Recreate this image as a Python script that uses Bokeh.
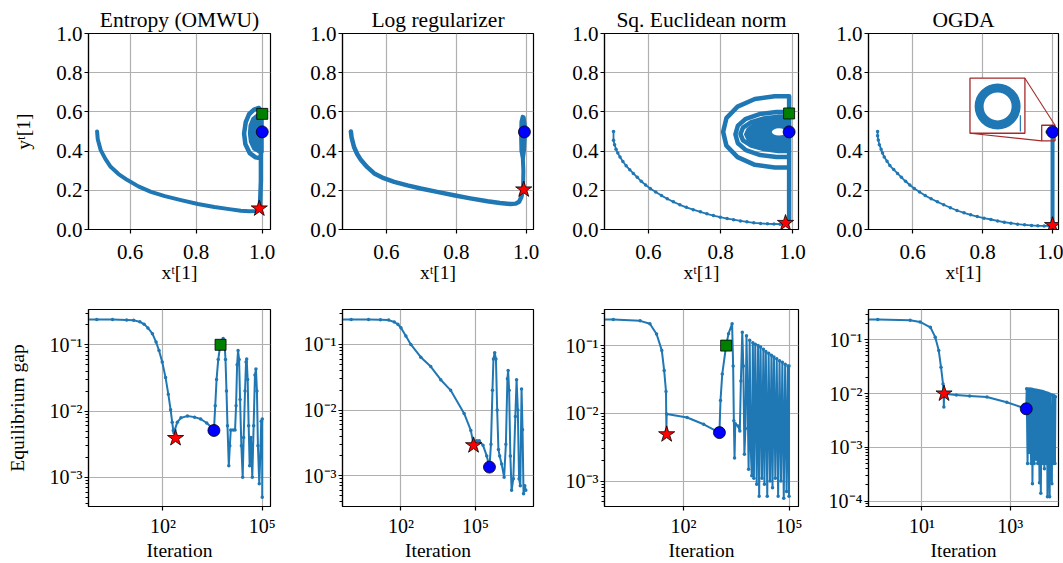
from bokeh.plotting import figure
from bokeh.layouts import row, column
from bokeh.models import Range1d, FixedTicker
from bokeh.embed import file_html
from bokeh.resources import INLINE

BLUE = "#1f77b4"
INSET_RED = "#a52a2a"
FONT = "Liberation Serif"

# ---------------- text ----------------
panel_titles = ["Entropy (OMWU)", "Log regularizer", "Sq. Euclidean norm", "OGDA"]
top_xlabel = "xᵗ[1]"
top_ylabel = "yᵗ[1]"
bot_xlabel = "Iteration"
bot_ylabel = "Equilibrium gap"

# ---------------- ticks ----------------
top_xticks = [0.6, 0.8, 1.0]
top_xtick_labels = ["0.6", "0.8", "1.0"]
top_yticks = [0.0, 0.2, 0.4, 0.6, 0.8, 1.0]
top_ytick_labels = ["0.0", "0.2", "0.4", "0.6", "0.8", "1.0"]
iter_ticks = [1e2, 1e5]
iter_tick_labels = ["10²", "10⁵"]
iter_ticks_ogda = [1e1, 1e3]
iter_tick_labels_ogda = ["10¹", "10³"]
gap_ticks = [1e-3, 1e-2, 1e-1]
gap_tick_labels = ["10⁻³", "10⁻²", "10⁻¹"]
gap_ticks_ogda = [1e-4, 1e-3, 1e-2, 1e-1]
gap_tick_labels_ogda = ["10⁻⁴", "10⁻³", "10⁻²", "10⁻¹"]
gap_minor_ticks = [8e-5, 9e-5,
                   2e-4, 3e-4, 4e-4, 5e-4, 6e-4, 7e-4, 8e-4, 9e-4,
                   2e-3, 3e-3, 4e-3, 5e-3, 6e-3, 7e-3, 8e-3, 9e-3,
                   2e-2, 3e-2, 4e-2, 5e-2, 6e-2, 7e-2, 8e-2, 9e-2,
                   2e-1, 3e-1]

# ---------------- top row: trajectories ----------------
ent_curve_x = [0.500, 0.502, 0.511, 0.525, 0.541, 0.565, 0.592, 0.625, 0.663, 0.705, 0.754, 0.805, 0.855, 0.900, 0.935, 0.960, 0.980, 0.990, 0.993]
ent_curve_y = [0.500, 0.460, 0.405, 0.360, 0.320, 0.283, 0.252, 0.220, 0.192, 0.170, 0.150, 0.130, 0.115, 0.104, 0.096, 0.093, 0.094, 0.100, 0.110]
ent_loop_x = [0.993, 0.996, 0.996, 0.990, 0.975, 0.960, 0.950, 0.945, 0.949, 0.962, 0.980, 0.992, 0.996]
ent_loop_y = [0.110, 0.250, 0.605, 0.620, 0.612, 0.588, 0.548, 0.490, 0.435, 0.390, 0.368, 0.364, 0.380]
ent_core_x = [1.000, 0.985, 0.971, 0.963, 0.961, 0.964, 0.974, 0.990, 1.000]
ent_core_y = [0.588, 0.585, 0.565, 0.532, 0.490, 0.447, 0.411, 0.396, 0.396]
ent_top_star = (0.991, 0.107)
ent_top_circle = (1.000, 0.498)
ent_top_square = (1.000, 0.590)

log_curve_x = [0.498, 0.500, 0.507, 0.516, 0.527, 0.545, 0.565, 0.592, 0.622, 0.660, 0.698, 0.745, 0.793, 0.840, 0.889, 0.925, 0.955, 0.970, 0.980, 0.986, 0.991]
log_curve_y = [0.500, 0.470, 0.421, 0.385, 0.354, 0.318, 0.286, 0.262, 0.243, 0.225, 0.209, 0.192, 0.175, 0.159, 0.144, 0.135, 0.130, 0.132, 0.142, 0.165, 0.204]
log_stem_x = [0.991, 0.992, 0.990]
log_stem_y = [0.204, 0.300, 0.380]
log_core_x = [0.990, 0.985, 0.984, 0.985, 0.989, 0.994, 0.997, 0.997, 0.995, 0.992]
log_core_y = [0.360, 0.400, 0.480, 0.550, 0.578, 0.575, 0.540, 0.460, 0.400, 0.360]
log_top_star = (0.993, 0.204)
log_top_circle = (0.995, 0.498)

sq_curve_x = [0.503, 0.503, 0.506, 0.510, 0.515, 0.521, 0.529, 0.538, 0.548, 0.558, 0.569, 0.580, 0.592, 0.605, 0.620, 0.636, 0.652, 0.669, 0.687, 0.705, 0.724, 0.744, 0.762, 0.780, 0.799, 0.818, 0.836, 0.855, 0.873, 0.892, 0.911, 0.930, 0.948, 0.965, 0.985]
sq_curve_y = [0.500, 0.455, 0.432, 0.410, 0.390, 0.370, 0.347, 0.325, 0.305, 0.286, 0.266, 0.246, 0.227, 0.209, 0.191, 0.173, 0.157, 0.141, 0.126, 0.113, 0.101, 0.090, 0.080, 0.071, 0.063, 0.056, 0.050, 0.044, 0.039, 0.034, 0.031, 0.029, 0.028, 0.027, 0.029]
sq_arcs_x = [0.985, 0.990, 0.990, 0.950, 0.895, 0.847, 0.816, 0.807, 0.816, 0.847, 0.895, 0.950, 0.990,
             0.990, 0.955, 0.910, 0.870, 0.848, 0.841, 0.848, 0.870, 0.910, 0.955, 0.990,
             0.990, 0.960, 0.920, 0.885, 0.862, 0.855, 0.862, 0.885, 0.920, 0.960, 0.990]
sq_arcs_y = [0.029, 0.050, 0.680, 0.680, 0.666, 0.627, 0.568, 0.498, 0.428, 0.369, 0.330, 0.316, 0.316,
             0.600, 0.600, 0.590, 0.565, 0.530, 0.485, 0.440, 0.405, 0.380, 0.370, 0.370,
             0.575, 0.575, 0.567, 0.548, 0.520, 0.487, 0.455, 0.428, 0.410, 0.400, 0.400]
sq_core_x = [0.990, 0.950, 0.919, 0.893, 0.876, 0.869, 0.876, 0.893, 0.919, 0.950, 0.990]
sq_core_y = [0.558, 0.558, 0.552, 0.537, 0.513, 0.4855, 0.458, 0.434, 0.419, 0.413, 0.413]
sq_hole_center = (0.962, 0.498)
sq_hole_size = (0.040, 0.036)
sq_top_star = (0.980, 0.033)
sq_top_circle = (0.990, 0.498)
sq_top_square = (0.990, 0.592)

og_curve_x = [0.500, 0.500, 0.502, 0.505, 0.510, 0.514, 0.519, 0.527, 0.535, 0.546, 0.557, 0.568, 0.580, 0.592, 0.605, 0.620, 0.636, 0.653, 0.671, 0.689, 0.708, 0.727, 0.747, 0.766, 0.785, 0.804, 0.824, 0.843, 0.862, 0.881, 0.900, 0.920, 0.940, 0.958, 0.976, 0.990, 1.000]
og_curve_y = [0.500, 0.478, 0.456, 0.433, 0.410, 0.390, 0.370, 0.348, 0.326, 0.306, 0.286, 0.266, 0.246, 0.227, 0.209, 0.191, 0.173, 0.157, 0.141, 0.126, 0.111, 0.097, 0.085, 0.075, 0.066, 0.058, 0.051, 0.044, 0.037, 0.032, 0.027, 0.024, 0.021, 0.019, 0.018, 0.019, 0.022]
og_stem_x = [1.000, 1.000, 0.985]
og_stem_y = [0.022, 0.498, 0.498]
og_inset_box = (0.764, 0.921, 0.491, 0.772)      # left, right, bottom, top
og_zoom_box = (0.969, 1.007, 0.452, 0.532)
og_ring_center = (0.843, 0.628)
og_ring_tail_x = [0.908, 0.908]
og_ring_tail_y = [0.583, 0.500]
og_top_star = (1.000, 0.022)
og_top_circle = (1.000, 0.498)

# ---------------- bottom row: equilibrium gap ----------------
ent_gap_iter = [0.3, 1, 3, 8, 13, 20, 27, 35, 48, 62, 76, 95, 120, 145, 170, 190, 205, 215, 228, 272,
                350, 550, 900, 1380, 2100, 2800, 3470, 3800, 4170, 4680, 5250, 5890, 6610, 7240, 7760, 8320,
                8910, 9770, 10500, 11200, 13200, 15100, 16200, 17400, 18600, 20000, 21400, 23400, 25700, 27500,
                30200, 32400, 33900, 36300, 38900, 41700, 45700, 50100, 55000, 60300, 64600, 69200, 74100,
                81300, 87100, 93300, 100000, 100000]
ent_gap_val = [0.24, 0.24, 0.24, 0.237, 0.234, 0.222, 0.205, 0.18, 0.147, 0.11, 0.082, 0.055, 0.032, 0.018,
               0.0105, 0.0068, 0.0051, 0.0047, 0.0052, 0.0068, 0.0079, 0.0084, 0.0081, 0.0076, 0.0066, 0.0058,
               0.0051, 0.012, 0.03, 0.06, 0.09, 0.115, 0.125, 0.11, 0.06, 0.02, 0.006, 0.0015, 0.003, 0.0052,
               0.0052, 0.0052, 0.012, 0.05, 0.082, 0.06, 0.015, 0.003, 0.001, 0.004, 0.02, 0.055, 0.061, 0.03,
               0.006, 0.0015, 0.004, 0.001, 0.006, 0.035, 0.043, 0.02, 0.003, 0.0008, 0.002, 0.007, 0.0076, 0.0005]
ent_bot_star = (240, 0.0039)
ent_bot_circle = (3470, 0.0051)
ent_bot_square = (5500, 0.1)

log_gap_iter = [0.3, 1, 5, 15, 32, 54, 75, 100, 158, 250, 630, 1580, 3980, 10000, 34700, 64600, 79000, 89000,
                112000, 141000, 200000, 282000, 363000, 417000, 479000, 525000, 589000, 661000, 741000, 832000,
                933000, 1.12e6, 1.41e6, 1.66e6, 1.91e6, 2.04e6, 2.24e6, 2.51e6, 2.82e6, 3.31e6, 3.98e6, 4.47e6,
                5.01e6, 5.62e6, 6.31e6, 7.08e6, 7.76e6, 8.51e6, 9.55e6, 1.05e7]
log_gap_val = [0.24, 0.24, 0.24, 0.238, 0.235, 0.22, 0.203, 0.18, 0.135, 0.1, 0.064, 0.046, 0.029, 0.02,
               0.0089, 0.0049, 0.0033, 0.0031, 0.0034, 0.0034, 0.0029, 0.002, 0.00135, 0.003, 0.02, 0.06,
               0.075, 0.06, 0.01, 0.0025, 0.002, 0.0015, 0.00095, 0.003, 0.03, 0.04, 0.02, 0.002, 0.0006,
               0.0009, 0.008, 0.029, 0.01, 0.0009, 0.0007, 0.021, 0.005, 0.00053, 0.0007, 0.0006]
log_bot_star = (83200, 0.0029)
log_bot_circle = (363000, 0.00135)

sq_gap_iter = [0.3, 1, 5.8, 11, 17, 24, 28, 31.6, 32.4, 33, 126, 372, 1047, 1122, 1259, 1622, 1900, 2400,
               2570, 2692, 2818, 2951, 3548, 3981, 4266, 4677, 5012, 5370, 5754, 6166, 6607, 7079, 7586,
               8128, 8710, 9333, 10000, 10965, 12023, 13183, 14125, 15488, 16982, 18621, 19953, 21878,
               23988, 26303, 28840, 31623, 33884, 37154, 40738, 44668, 48978, 53703, 58884, 64565, 70795,
               77625, 85114, 93325, 100000, 100000]
sq_gap_val = [0.243, 0.243, 0.232, 0.21, 0.148, 0.085, 0.043, 0.021, 0.0055, 0.0098, 0.0087, 0.0069, 0.0052,
              0.0155, 0.038, 0.1, 0.15, 0.21, 0.05, 0.0078, 0.0022, 0.007, 0.0065, 0.0055, 0.03, 0.158, 0.05,
              0.0025, 0.006, 0.14, 0.02, 0.0015, 0.12, 0.003, 0.0012, 0.11, 0.0011, 0.105, 0.0009, 0.1,
              0.0006, 0.095, 0.0011, 0.088, 0.0009, 0.082, 0.0006, 0.077, 0.001, 0.072, 0.0008, 0.068,
              0.0011, 0.064, 0.0006, 0.06, 0.001, 0.057, 0.00056, 0.053, 0.0007, 0.05, 0.0006, 0.05]
sq_bot_star = (33, 0.0049)
sq_bot_circle = (1047, 0.0052)
sq_bot_square = (1622, 0.1)

og_gap_iter = [0.3, 1, 5.4, 9.1, 15.5, 20, 24, 27, 30, 31, 31.3, 31.6, 60, 120, 295, 830, 2291, 2344, 2455,
               2570, 2692, 2818, 2951, 3090, 3162, 3311, 3467, 3631, 3802, 3981, 4169, 4365, 4571, 4677,
               4898, 5129, 5370, 5623, 5888, 6166, 6457, 6761, 6918, 7244, 7762, 7943, 8318, 8710, 8913,
               9333, 9772, 10233, 10471]
og_gap_val = [0.239, 0.239, 0.232, 0.215, 0.171, 0.112, 0.063, 0.031, 0.015, 0.01, 0.0056, 0.0099, 0.0094,
              0.009, 0.0086, 0.0069, 0.0052, 0.0123, 0.0005, 0.0122, 0.0008, 0.0121, 0.0005, 0.012, 0.00021,
              0.0118, 0.0005, 0.0117, 0.0006, 0.0115, 0.0005, 0.0113, 0.00022, 0.0112, 0.00014, 0.011,
              0.0005, 0.0108, 0.0004, 0.0105, 0.0005, 0.0102, 0.00012, 0.01, 0.00012, 0.0097, 0.0005,
              0.00021, 0.0094, 0.0005, 0.0091, 0.0005, 0.0087]
og_bot_star = (31.6, 0.01)
og_bot_circle = (2291, 0.0052)

# ---------------- axis ranges ----------------
top_xranges = [(0.474, 1.025), (0.474, 1.021), (0.478, 1.016), (0.474, 1.017)]
top_yrange = (0.0, 1.0)
bot_xranges = [(0.562, 177800), (0.447, 2.14e7), (0.562, 186000), (0.617, 12300)]
bot_yranges = [(0.000363, 0.341), (0.000339, 0.341), (0.000422, 0.341), (7.94e-5, 0.366)]

# ---------------- layout geometry (page has no body margin) ----------------
LB = [88, 62, 61, 60]
FW = [182, 191, 194, 190]
RB = [10, 10, 10, 5]


def make_fig(ci, top, xr, yr, xtype, ytype, title=None):
    tb, fh, bb = (33, 196, 70) if top else (10, 197, 57)
    p = figure(width=LB[ci] + FW[ci] + RB[ci], height=tb + fh + bb,
               x_range=Range1d(*xr), y_range=Range1d(*yr),
               x_axis_type=xtype, y_axis_type=ytype,
               output_backend="svg", toolbar_location=None, title=title,
               min_border_left=LB[ci], min_border_right=RB[ci],
               min_border_top=tb, min_border_bottom=bb)
    if title is not None:
        p.title.text_font = FONT
        p.title.text_font_size = "21.5px"
        p.title.text_font_style = "normal"
        p.title.text_color = "black"
        p.title.align = "center"
        p.title.standoff = 3
    for ax in (p.xaxis[0], p.yaxis[0]):
        ax.major_label_text_font = FONT
        ax.major_label_text_font_size = "21px" if top else "20px"
        ax.major_label_text_color = "black"
        ax.axis_label_text_font = FONT
        ax.axis_label_text_font_size = "19.5px"
        ax.axis_label_text_font_style = "normal"
        ax.axis_label_text_color = "black"
        ax.axis_line_color = "black"
        ax.axis_line_width = 1.2
        ax.major_tick_in = 0
        ax.major_tick_out = 4
        ax.major_tick_line_color = "black"
        ax.major_tick_line_width = 1.2
        ax.minor_tick_in = 0
        ax.minor_tick_out = 3
        ax.minor_tick_line_color = "black"
        ax.minor_tick_line_width = 1
    p.xaxis[0].major_label_standoff = 11 if top else 4
    p.xaxis[0].axis_label_standoff = 0
    p.yaxis[0].major_label_standoff = 2
    p.outline_line_color = "black"
    p.outline_line_width = 1.2
    p.outline_line_alpha = 1.0
    for g in (p.xgrid[0], p.ygrid[0]):
        g.grid_line_color = "#b0b0b0"
        g.grid_line_width = 1.2
    return p


def set_ticks(p, xt, xl, yt, yl, yminor=None):
    xr = p.x_range
    yr = p.y_range
    xtk = FixedTicker(ticks=xt, minor_ticks=[])
    mins = [] if yminor is None else [v for v in yminor if yr.start <= v <= yr.end]
    ytk = FixedTicker(ticks=yt, minor_ticks=mins)
    p.xaxis[0].ticker = xtk
    p.xgrid[0].ticker = xtk
    p.yaxis[0].ticker = ytk
    p.ygrid[0].ticker = ytk
    p.xaxis[0].major_label_overrides = dict(zip(xt, xl))
    p.yaxis[0].major_label_overrides = dict(zip(yt, yl))


def traj(p, xs, ys, width, dots=None):
    p.line(xs, ys, line_color=BLUE, line_width=width, line_join="round", line_cap="round")
    if dots:
        p.scatter(xs, ys, size=dots, fill_color=BLUE, line_color=None)


def core(p, xs, ys):
    p.patch(xs, ys, fill_color=BLUE, line_color=BLUE, line_width=3, line_join="round")


def marks(p, star=None, circle=None, square=None):
    if star is not None:
        p.scatter([star[0]], [star[1]], marker="star", size=17, fill_color="#ff0000",
                  line_color="black", line_width=0.8)
    if circle is not None:
        p.scatter([circle[0]], [circle[1]], marker="circle", size=12, fill_color="#0000ff",
                  line_color="black", line_width=0.8)
    if square is not None:
        p.scatter([square[0]], [square[1]], marker="square", size=11, fill_color="#008000",
                  line_color="black", line_width=0.8)


# ---------------- top row ----------------
tops = []
for ci in range(4):
    p = make_fig(ci, True, top_xranges[ci], top_yrange, "linear", "linear", panel_titles[ci])
    set_ticks(p, top_xticks, top_xtick_labels, top_yticks, top_ytick_labels)
    p.xaxis[0].axis_label = top_xlabel
    tops.append(p)
tops[0].yaxis[0].axis_label = top_ylabel
tops[0].yaxis[0].axis_label_standoff = 19

p = tops[0]
traj(p, ent_curve_x, ent_curve_y, 4)
traj(p, ent_loop_x, ent_loop_y, 4.5)
core(p, ent_core_x, ent_core_y)
marks(p, ent_top_star, ent_top_circle, ent_top_square)

p = tops[1]
traj(p, log_curve_x, log_curve_y, 4.5)
traj(p, log_stem_x, log_stem_y, 4)
core(p, log_core_x, log_core_y)
marks(p, log_top_star, log_top_circle)

p = tops[2]
traj(p, sq_curve_x, sq_curve_y, 1.8, dots=3.5)
traj(p, sq_arcs_x, sq_arcs_y, 4.5)
core(p, sq_core_x, sq_core_y)
p.ellipse(x=[sq_hole_center[0]], y=[sq_hole_center[1]], width=[sq_hole_size[0]], height=[sq_hole_size[1]],
          fill_color="white", line_color=None)
marks(p, sq_top_star, sq_top_circle, sq_top_square)

p = tops[3]
L, R, B, T = og_inset_box
p.quad(left=[L], right=[R], bottom=[B], top=[T], fill_color="white", line_color=INSET_RED, line_width=1.3)
p.annulus(x=[og_ring_center[0]], y=[og_ring_center[1]], inner_radius=14, outer_radius=23,
          inner_radius_units="screen", outer_radius_units="screen", fill_color=BLUE, line_color=None)
p.line(og_ring_tail_x, og_ring_tail_y, line_color=BLUE, line_width=1.2)
zl, zr, zb, zt = og_zoom_box
p.line([R, zr], [T, zt], line_color=INSET_RED, line_width=1.1)
p.line([L, zl], [B, zb], line_color=INSET_RED, line_width=1.1)
traj(p, og_curve_x, og_curve_y, 1.8, dots=3.5)
traj(p, og_stem_x, og_stem_y, 4)
p.quad(left=[zl], right=[zr], bottom=[zb], top=[zt], fill_color=None, line_color=INSET_RED, line_width=1.3)
marks(p, og_top_star, og_top_circle)

# ---------------- bottom row ----------------
bots = []
for ci in range(4):
    p = make_fig(ci, False, bot_xranges[ci], bot_yranges[ci], "log", "log")
    if ci == 3:
        set_ticks(p, iter_ticks_ogda, iter_tick_labels_ogda, gap_ticks_ogda, gap_tick_labels_ogda, gap_minor_ticks)
    else:
        set_ticks(p, iter_ticks, iter_tick_labels, gap_ticks, gap_tick_labels, gap_minor_ticks)
    p.xaxis[0].axis_label = bot_xlabel
    bots.append(p)
bots[0].yaxis[0].axis_label = bot_ylabel
bots[0].yaxis[0].axis_label_standoff = 19

p = bots[0]
traj(p, ent_gap_iter, ent_gap_val, 2, dots=3.5)
marks(p, ent_bot_star, ent_bot_circle, ent_bot_square)

p = bots[1]
traj(p, log_gap_iter, log_gap_val, 2, dots=3.5)
marks(p, log_bot_star, log_bot_circle)

p = bots[2]
traj(p, sq_gap_iter, sq_gap_val, 2, dots=3.5)
marks(p, sq_bot_star, sq_bot_circle, sq_bot_square)

p = bots[3]
traj(p, og_gap_iter, og_gap_val, 2, dots=3.5)
marks(p, og_bot_star, og_bot_circle)

layout = column(row(*tops), row(*bots))
open("out.html", "w").write(file_html(layout, INLINE))
